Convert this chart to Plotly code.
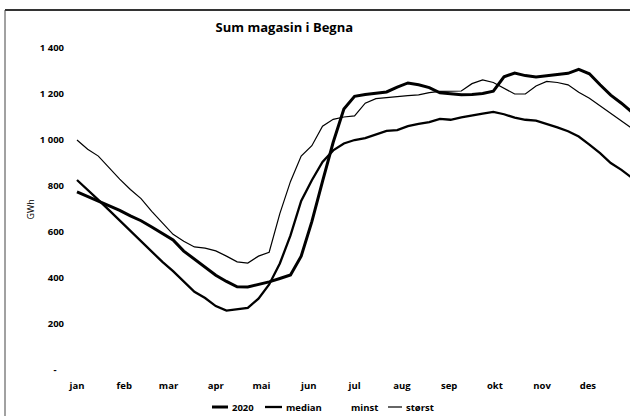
import plotly.graph_objects as go

# weekly points (day of year, 2020)
days = [7 * i for i in range(53)]

y2020 = [774, 754, 733, 713, 694, 670, 649, 622, 595, 565, 517, 481, 445, 412, 385, 362, 361, 372, 383, 398,
         413, 495, 645, 820, 990, 1135, 1190, 1198, 1202, 1209, 1230, 1248, 1240, 1228, 1205, 1200, 1197, 1198,
         1202, 1212, 1275, 1291, 1280, 1274, 1280, 1287, 1290, 1307, 1288, 1240, 1195, 1160, 1120]

median = [826, 785, 740, 695, 650, 605, 558, 515, 470, 430, 385, 340, 313, 278, 258, 265, 270, 310, 372, 463,
          585, 735, 825, 905, 955, 985, 1000, 1008, 1025, 1040, 1043, 1060, 1070, 1078, 1092, 1088, 1098, 1108,
          1115, 1122, 1112, 1097, 1088, 1084, 1070, 1055, 1038, 1015, 980, 943, 900, 870, 835]

storst = [1000, 960, 930, 880, 830, 785, 745, 690, 640, 590, 560, 535, 530, 518, 495, 470, 465, 495, 512, 680,
          820, 930, 975, 1060, 1090, 1100, 1105, 1160, 1180, 1185, 1190, 1193, 1196, 1206, 1211, 1213, 1213, 1245,
          1261, 1250, 1225, 1200, 1200, 1235, 1255, 1250, 1240, 1208, 1182, 1150, 1117, 1085, 1050]

month_days = [0, 31, 60, 91, 121, 152, 182, 213, 244, 274, 305, 335]
month_labels = ["jan", "feb", "mar", "apr", "mai", "jun", "jul", "aug", "sep", "okt", "nov", "des"]

y_ticks = [0, 200, 400, 600, 800, 1000, 1200, 1400]
y_labels = ["-\u00a0\u00a0\u00a0", "200", "400", "600", "800", "1 000", "1 200", "1 400"]

FONT = "Open Sans"
W, H = 630, 416
L, R, T, B = 65, 0, 48, 46
PW, PH = W - L - R, H - T - B


def px(x):
    return (x - L) / PW


def py(y):
    return (H - B - y) / PH


fig = go.Figure()
fig.add_trace(go.Scatter(x=days, y=storst, mode="lines", name="størst",
                         line=dict(color="black", width=1.2), showlegend=False))
fig.add_trace(go.Scatter(x=days, y=median, mode="lines", name="median",
                         line=dict(color="black", width=2.3), showlegend=False))
fig.add_trace(go.Scatter(x=days, y=y2020, mode="lines", name="2020",
                         line=dict(color="black", width=3), showlegend=False))

x0 = (L - 77) / 1.525
x1 = (W - R - 77) / 1.525

fig.update_layout(
    width=W, height=H,
    margin=dict(l=L, r=R, t=T, b=B),
    paper_bgcolor="white", plot_bgcolor="white",
    title=dict(text="<b>Sum magasin i Begna</b>", x=px(320), xanchor="center",
               y=1 - 27 / H, yanchor="middle", font=dict(family=FONT, size=13, color="black")),
    xaxis=dict(range=[x0, x1], tickvals=month_days, ticktext=["<b>%s</b>" % m for m in month_labels],
               showgrid=False, zeroline=False, showline=False, ticks="",
               ticklabelstandoff=8, tickfont=dict(family=FONT, size=9.5, color="black"),
               automargin=False, fixedrange=True),
    yaxis=dict(range=[0, 1400], tickvals=y_ticks, ticktext=["<b>%s</b>" % t for t in y_labels],
               showgrid=False, zeroline=False, showline=False, ticks="",
               tickfont=dict(family=FONT, size=9.5, color="black"),
               automargin=False, fixedrange=True),
    showlegend=False,
)

ann = []
shapes = []
# y axis title
ann.append(dict(text="GWh", x=px(22), y=py(210), xref="paper", yref="paper", showarrow=False,
                textangle=-90, font=dict(family=FONT, size=9, color="black")))

# manual legend
legend_items = [("2020", 212, 228, 3), ("median", 265, 282, 2.3), ("minst", None, None, 0), ("størst", 388, 402, 1.2)]
text_x = {"2020": 230, "median": 284, "minst": 349, "størst": 404}
for name, a, b, w in legend_items:
    if a is not None:
        shapes.append(dict(type="line", xref="paper", yref="paper", x0=px(a), x1=px(b), y0=py(407), y1=py(407),
                           line=dict(color="black", width=w)))
    ann.append(dict(text="<b>%s</b>" % name, x=px(text_x[name]), y=py(407), xref="paper", yref="paper",
                    xanchor="left", yanchor="middle", showarrow=False,
                    font=dict(family=FONT, size=9.5, color="black")))

# chart frame (top and left edges visible)
shapes.append(dict(type="line", xref="paper", yref="paper", x0=px(5), x1=px(640), y0=py(10), y1=py(10),
                   line=dict(color="#333333", width=2)))
shapes.append(dict(type="line", xref="paper", yref="paper", x0=px(5), x1=px(5), y0=py(10), y1=py(420),
                   line=dict(color="#444444", width=1)))

fig.update_layout(annotations=ann, shapes=shapes)
fig.write_html("out.html", config={"displayModeBar": False},
               post_script="document.body.style.margin='0';document.body.style.overflow='hidden';")
